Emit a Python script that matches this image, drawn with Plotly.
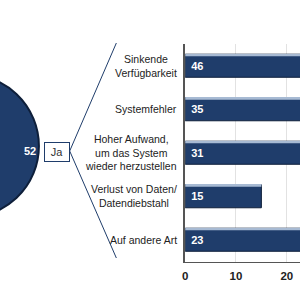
import plotly.graph_objects as go

# ---- data ----
categories = ["Sinkende<br>Verfügbarkeit", "Systemfehler",
              "Hoher Aufwand,<br>um das System<br>wieder herzustellen",
              "Verlust von Daten/<br>Datendiebstahl", "Auf andere Art"]
values = [46, 35, 31, 15, 23]
pie_labels = ["Ja", "Nein"]
pie_values = [52, 48]
x_ticks = [0, 10, 20]

# ---- geometry helpers (canvas is wider and shifted left so the pie is cut) ----
W, H, S = 410, 300, 110
def xp(px):
    return (px + S) / W
def yp(py):
    return 1 - py / H

NAVY = "#1F3D6B"
DARK = "#0E1F3A"
FONT = "Liberation Sans"
BW = 0.53

fig = go.Figure()

ja_share = pie_values[0] / sum(pie_values)
fig.add_trace(go.Pie(
    labels=pie_labels, values=pie_values, sort=False,
    direction="clockwise", rotation=90 - ja_share * 180,
    marker=dict(colors=[NAVY, "#8EA9C8"], line=dict(color=DARK, width=2)),
    textinfo="none", hoverinfo="skip", showlegend=False,
    domain=dict(x=[xp(-107), xp(37)], y=[yp(218), yp(74)]),
))

fig.add_trace(go.Bar(
    y=categories, x=values, orientation="h", width=BW, offset=-BW / 2,
    marker=dict(color=NAVY, line=dict(color=DARK, width=1)),
    texttemplate="\u00a0%{x}", textposition="inside", insidetextanchor="start",
    textfont=dict(family=FONT, size=11, color="white", weight="bold"),
    showlegend=False, hoverinfo="skip",
))
# light top edge of each bar
fig.add_trace(go.Bar(
    y=categories, x=values, orientation="h", width=0.045, offset=-BW / 2,
    marker=dict(color="#A7BAD3", line=dict(width=0)),
    textposition="none", showlegend=False, hoverinfo="skip",
))

annotations = []
for c in categories:
    annotations.append(dict(
        x=xp(178), y=c, xref="paper", yref="y", xanchor="right", yanchor="middle",
        text=c, align="center", showarrow=False,
        font=dict(family=FONT, size=10.5, color="#222222"),
    ))
# pie value label
annotations.append(dict(
    x=xp(20), y=yp(151), xref="paper", yref="paper", text=f"<b>{pie_values[0]}</b>",
    showarrow=False, font=dict(family=FONT, size=11, color="white"),
))
# Ja box
annotations.append(dict(
    x=xp(55.5), y=yp(152), xref="paper", yref="paper", text=pie_labels[0],
    showarrow=False, font=dict(family=FONT, size=11, color="#333333"),
    bordercolor=NAVY, borderwidth=1, borderpad=1, bgcolor="white",
    width=22, height=16,
))

shapes = [
    dict(type="line", xref="paper", yref="paper", x0=xp(68), y0=yp(151), x1=xp(115), y1=yp(43),
         line=dict(color=NAVY, width=1)),
    dict(type="line", xref="paper", yref="paper", x0=xp(68), y0=yp(151), x1=xp(115), y1=yp(258),
         line=dict(color=NAVY, width=1)),
]

fig.update_layout(
    width=W, height=H, autosize=False,
    margin=dict(l=0, r=0, t=0, b=0),
    paper_bgcolor="white", plot_bgcolor="white",
    barmode="overlay",
    xaxis=dict(domain=[xp(184.3), 1], range=[0, (300 - 184.3) / 5.12],
               tickvals=x_ticks, ticktext=[str(t) for t in x_ticks],
               showgrid=True, gridcolor="#E2E2E2", gridwidth=1, zeroline=False,
               showline=True, linecolor="#555555", linewidth=1,
               ticks="", ticklabelstandoff=4,
               tickfont=dict(family=FONT, size=11.5, color="#222222", weight="bold")),
    yaxis=dict(domain=[yp(261.5), yp(44)], categoryorder="array", categoryarray=categories,
               autorange="reversed", showticklabels=False, showgrid=False, zeroline=False,
               showline=True, linecolor="#555555", linewidth=1.5, ticks=""),
    annotations=annotations, shapes=shapes,
)

fig.write_html("out.html", config={"displayModeBar": False},
               post_script="var d=document.getElementById('{plot_id}'); d.style.marginLeft='-110px';")
